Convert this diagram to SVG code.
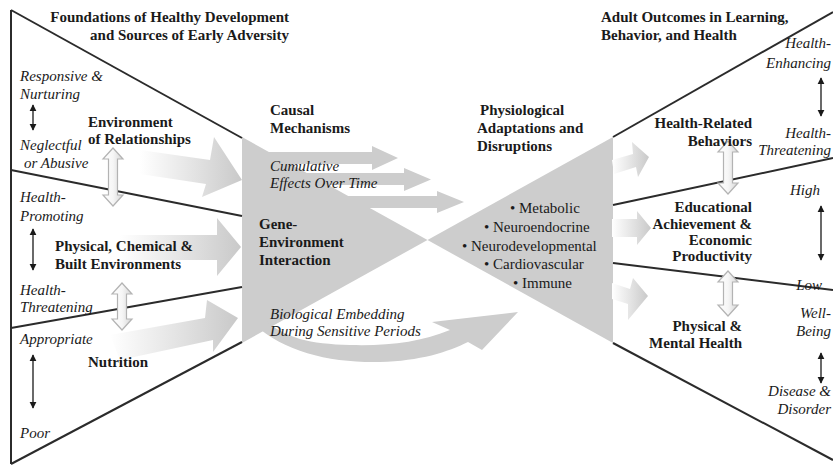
<svg xmlns="http://www.w3.org/2000/svg" width="833" height="466" viewBox="0 0 833 466">
<defs>
<linearGradient id="gl" x1="0" y1="0" x2="1" y2="0"><stop offset="0" stop-color="#ffffff"/><stop offset="0.55" stop-color="#e2e2e2"/><stop offset="1" stop-color="#c9c9c9"/></linearGradient>
<linearGradient id="gh" x1="0" y1="0" x2="1" y2="0"><stop offset="0" stop-color="#ffffff"/><stop offset="0.5" stop-color="#f6f6f6"/><stop offset="1" stop-color="#d6d6d6"/></linearGradient>
<marker id="ah" viewBox="0 0 10 10" refX="9" refY="5" markerWidth="7" markerHeight="9" markerUnits="userSpaceOnUse" orient="auto-start-reverse"><path d="M0,0 L10,5 L0,10 Z" fill="#1a1a1a"/></marker>
</defs>
<style>
.t{font-family:"Liberation Serif","Times New Roman",serif;font-size:15px;fill:#1a1a1a}
.b{font-weight:bold}
.i{font-style:italic}
.e{text-anchor:end}
.ln{stroke:#2b2b2b;stroke-width:2;fill:none}
.dbl{stroke:#1a1a1a;stroke-width:1.3;fill:none;marker-start:url(#ah);marker-end:url(#ah)}
.hol{fill:url(#gh);stroke:#b3b3b3;stroke-width:1.2}
.gray{fill:#cdcdcd}
.grad{fill:url(#gl)}
</style>
<rect width="833" height="466" fill="#ffffff"/>

<g id="mechanisms-bowtie">
<polygon class="gray" points="242,137 242,343 427.5,240"/>
<polygon class="gray" points="613,137 613,343 427.5,240"/>
</g>

<g id="connectors">
<polygon class="grad" points="140,150 210,160 214,137 242,180 202,197 206,184 140,174"/>
<polygon class="grad" points="120,235 217,235 217,218 241,247 217,276 217,260 120,260"/>
<polygon class="grad" points="110,335 205,318 207,300 238,318 213,352 213,340 120,360"/>
<polygon class="gray" points="268,152 372,152 372,146 398,158 372,170 372,164 268,164"/>
<polygon class="gray" points="300,173 404,173 404,168 431,179.5 404,191 404,185 300,185"/>
<polygon class="gray" points="340,196 437,196 437,191 464,202 437,213 437,208 340,208"/>
<path class="gray" d="M255,325 C285,352 330,363 380,362 C420,361 448,352 468,342 L482,350 L518,312 L432,322 L450,330 C420,342 390,346 350,345 C310,344 285,338 265,320 Z"/>
<polygon class="grad" points="612,160 633,154 632,142 649,157 638,177 636,167 614,174"/>
<polygon class="grad" points="612,219 637,219 637,211 651,228 637,245 637,237 612,237"/>
<polygon class="grad" points="612,283 630,289 633,278 648,296 628,320 628,304 612,299"/>
<path class="dbl" d="M33,105 V130"/>
<path class="dbl" d="M33,229 V270"/>
<path class="dbl" d="M33,355 V408"/>
<path class="dbl" d="M821,78 V116"/>
<path class="dbl" d="M821,206 V260"/>
<path class="dbl" d="M821,353 V383"/>
</g>

<g id="frame-lines">
<path class="ln" d="M11,10 V464" stroke-width="1.5"/>
<path class="ln" d="M11,10 L242,138"/>
<path class="ln" d="M11,170 L242,216"/>
<path class="ln" d="M11,328 L242,287"/>
<path class="ln" d="M11,464 L242,342"/>
<path class="ln" d="M613,137 L833,12"/>
<path class="ln" d="M613,205 L833,158"/>
<path class="ln" d="M613,263 L833,290"/>
<path class="ln" d="M613,343 L833,460"/>
</g>

<g id="hollow-arrows">
<path class="hol" d="M113,148 L123,159 L117.5,159 L117.5,195 L123,195 L113,206 L103,195 L108.5,195 L108.5,159 L103,159 Z"/>
<path class="hol" d="M122,283 L132,294 L126.5,294 L126.5,319 L132,319 L122,330 L112,319 L117.5,319 L117.5,294 L112,294 Z"/>
<path class="hol" d="M728,141 L738,152 L732.5,152 L732.5,183 L738,183 L728,194 L718,183 L723.5,183 L723.5,152 L718,152 Z"/>
<path class="hol" d="M728,271 L738,282 L732.5,282 L732.5,305 L738,305 L728,316 L718,305 L723.5,305 L723.5,282 L718,282 Z"/>
</g>

<g id="foundations-title">
<text class="t b e" x="289" y="22">Foundations of Healthy Development</text>
<text class="t b e" x="289" y="40">and Sources of Early Adversity</text>
</g>

<g id="relationships">
<text class="t i" x="20" y="81">Responsive &amp;</text>
<text class="t i" x="20" y="99">Nurturing</text>
<text class="t b" x="88" y="127">Environment</text>
<text class="t b" x="88" y="144">of Relationships</text>
<text class="t i" x="20" y="150">Neglectful</text>
<text class="t i" x="24" y="168">or Abusive</text>
</g>

<g id="physical">
<text class="t i" x="20" y="202">Health-</text>
<text class="t i" x="20" y="221">Promoting</text>
<text class="t b" x="55" y="251">Physical, Chemical &amp;</text>
<text class="t b" x="55" y="269">Built Environments</text>
<text class="t i" x="20" y="295">Health-</text>
<text class="t i" x="20" y="312">Threatening</text>
</g>

<g id="nutrition">
<text class="t i" x="20" y="344">Appropriate</text>
<text class="t b" x="88" y="367">Nutrition</text>
<text class="t i" x="20" y="438">Poor</text>
</g>

<g id="causal-mechanisms">
<text class="t b" x="270" y="115">Causal</text>
<text class="t b" x="270" y="133">Mechanisms</text>
<text class="t i" x="270" y="171">Cumulative</text>
<text class="t i" x="270" y="188">Effects Over Time</text>
<text class="t b" x="259" y="229">Gene-</text>
<text class="t b" x="259" y="247">Environment</text>
<text class="t b" x="259" y="265">Interaction</text>
<text class="t i" x="270" y="319">Biological Embedding</text>
<text class="t i" x="270" y="336">During Sensitive Periods</text>
</g>

<g id="physiological">
<text class="t b" x="480" y="115">Physiological</text>
<text class="t b" x="477" y="133">Adaptations and</text>
<text class="t b" x="477" y="151">Disruptions</text>
<text class="t" x="510" y="213">• Metabolic</text>
<text class="t" x="484" y="232">• Neuroendocrine</text>
<text class="t" x="462" y="251">• Neurodevelopmental</text>
<text class="t" x="484" y="269">• Cardiovascular</text>
<text class="t" x="513" y="288">• Immune</text>
</g>

<g id="outcomes-title">
<text class="t b" x="601" y="22">Adult Outcomes in Learning,</text>
<text class="t b" x="601" y="40">Behavior, and Health</text>
</g>

<g id="health-behaviors">
<text class="t b e" x="752" y="128">Health-Related</text>
<text class="t b e" x="752" y="146">Behaviors</text>
<text class="t i e" x="831" y="48">Health-</text>
<text class="t i e" x="831" y="68">Enhancing</text>
<text class="t i e" x="831" y="138">Health-</text>
<text class="t i e" x="831" y="155">Threatening</text>
</g>

<g id="education">
<text class="t b e" x="752" y="212">Educational</text>
<text class="t b e" x="752" y="229">Achievement &amp;</text>
<text class="t b e" x="752" y="245">Economic</text>
<text class="t b e" x="752" y="261">Productivity</text>
<text class="t i e" x="820" y="195">High</text>
<text class="t i e" x="822" y="290">Low</text>
</g>

<g id="health">
<text class="t b e" x="742" y="331">Physical &amp;</text>
<text class="t b e" x="742" y="348">Mental Health</text>
<text class="t i e" x="831" y="318">Well-</text>
<text class="t i e" x="831" y="336">Being</text>
<text class="t i e" x="831" y="396">Disease &amp;</text>
<text class="t i e" x="831" y="414">Disorder</text>
</g>
</svg>
